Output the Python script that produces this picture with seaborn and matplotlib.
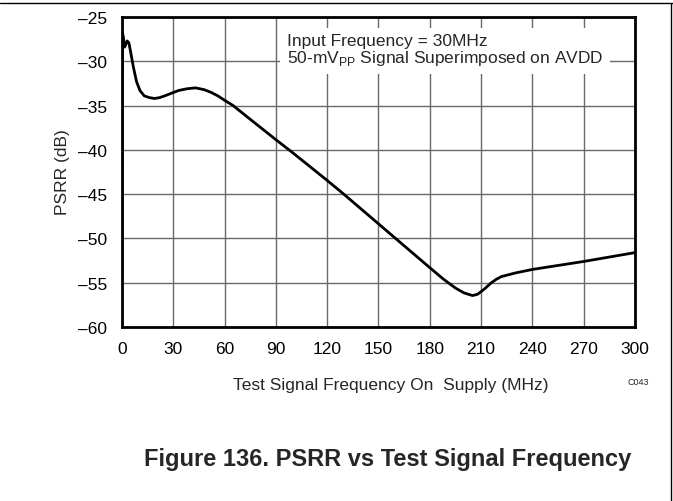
import matplotlib
matplotlib.use("Agg")
import matplotlib.pyplot as plt
from matplotlib.lines import Line2D
import seaborn as sns
import pandas as pd

# PSRR curve (MHz, dB)
freq_mhz = [0, 0.3, 0.8, 1.5, 2.2, 3.0, 4.0, 5.0, 6.6, 8.5, 10.5, 13, 16, 19, 22,
            25, 29, 33, 38, 43, 48, 52, 56, 60, 65, 75, 90, 100, 110, 120, 130,
            140, 150, 160, 170, 180, 188, 195, 200, 205, 208, 212, 216, 219,
            222, 230, 240, 255, 270, 285, 300]
psrr_db = [-54.0, -26.8, -27.3, -28.4, -28.1, -27.7, -27.9, -28.9, -30.6, -32.3,
           -33.3, -33.9, -34.1, -34.2, -34.1, -33.9, -33.6, -33.3, -33.1, -33.0,
           -33.2, -33.5, -33.9, -34.4, -35.0, -36.55, -38.85, -40.35, -41.9, -43.45,
           -45.05, -46.7, -48.35, -50.0, -51.65, -53.3, -54.6, -55.6, -56.15, -56.45,
           -56.3, -55.7, -55.0, -54.6, -54.3, -53.9, -53.5, -53.05, -52.6, -52.1,
           -51.6]

x_ticks = [0, 30, 60, 90, 120, 150, 180, 210, 240, 270, 300]
x_tick_labels = [str(v) for v in x_ticks]
y_ticks = [-25, -30, -35, -40, -45, -50, -55, -60]
y_tick_labels = ["\u201325", "\u201330", "\u201335", "\u201340", "\u201345",
                 "\u201350", "\u201355", "\u201360"]

note_lines = ["Input Frequency = 30MHz",
              "50-mV$_{\\mathregular{PP}}$ Signal Superimposed on AVDD"]
x_label = "Test Signal Frequency On  Supply (MHz)"
y_label = "PSRR (dB)"
caption = "Figure 136. PSRR vs Test Signal Frequency"
figure_code = "C043"

sns.set_style("white")
plt.rcParams["font.family"] = ["Liberation Sans", "DejaVu Sans"]
plt.rcParams["mathtext.fontset"] = "custom"
plt.rcParams["mathtext.rm"] = "Liberation Sans"

FS = 12.5

df = pd.DataFrame({"freq": freq_mhz, "psrr": psrr_db})

fig = plt.figure(figsize=(6.73, 5.02), dpi=100)
ax = fig.add_axes([0.1813, 0.3466, 0.7622, 0.6175])

sns.lineplot(data=df, x="freq", y="psrr", sort=False, estimator=None,
             color="black", linewidth=2.0, ax=ax, zorder=3)

ax.set_xlim(0, 300)
ax.set_ylim(-60, -25)
ax.set_xticks(x_ticks)
ax.set_xticklabels(x_tick_labels)
ax.set_yticks(y_ticks)
ax.set_yticklabels(y_tick_labels)
ax.tick_params(axis="both", length=0, labelsize=FS, colors="black")
ax.tick_params(axis="x", pad=10)
ax.tick_params(axis="y", pad=10.5)

ax.grid(True, color="#6a6a6a", linewidth=1.0)
ax.set_axisbelow(True)
for s in ax.spines.values():
    s.set_visible(True)
    s.set_color("black")
    s.set_linewidth(2.0)

ax.set_xlabel(x_label, fontsize=FS)
ax.set_ylabel(y_label, fontsize=FS)
ax.xaxis.set_label_coords(0.524, -0.160)
ax.yaxis.set_label_coords(-0.102, 0.503)

ax.text(96.4, -26.85, note_lines[0] + "\n" + note_lines[1], fontsize=FS,
        va="top", ha="left", linespacing=0.95, zorder=4,
        bbox=dict(facecolor="white", edgecolor="none", pad=5))

fig.text(0.948, 0.239, figure_code, fontsize=6.5, ha="center", va="center")
fig.text(0.5765, 0.084, caption, fontsize=17, fontweight="bold",
         ha="center", va="center")

# frame lines along the top and right edges of the figure
fig.add_artist(Line2D([0, 1], [0.992, 0.992], color="black", linewidth=1.0,
                      transform=fig.transFigure))
fig.add_artist(Line2D([0.997, 0.997], [0, 0.992], color="black", linewidth=1.0,
                      transform=fig.transFigure))

fig.savefig("out.png", dpi=100)
